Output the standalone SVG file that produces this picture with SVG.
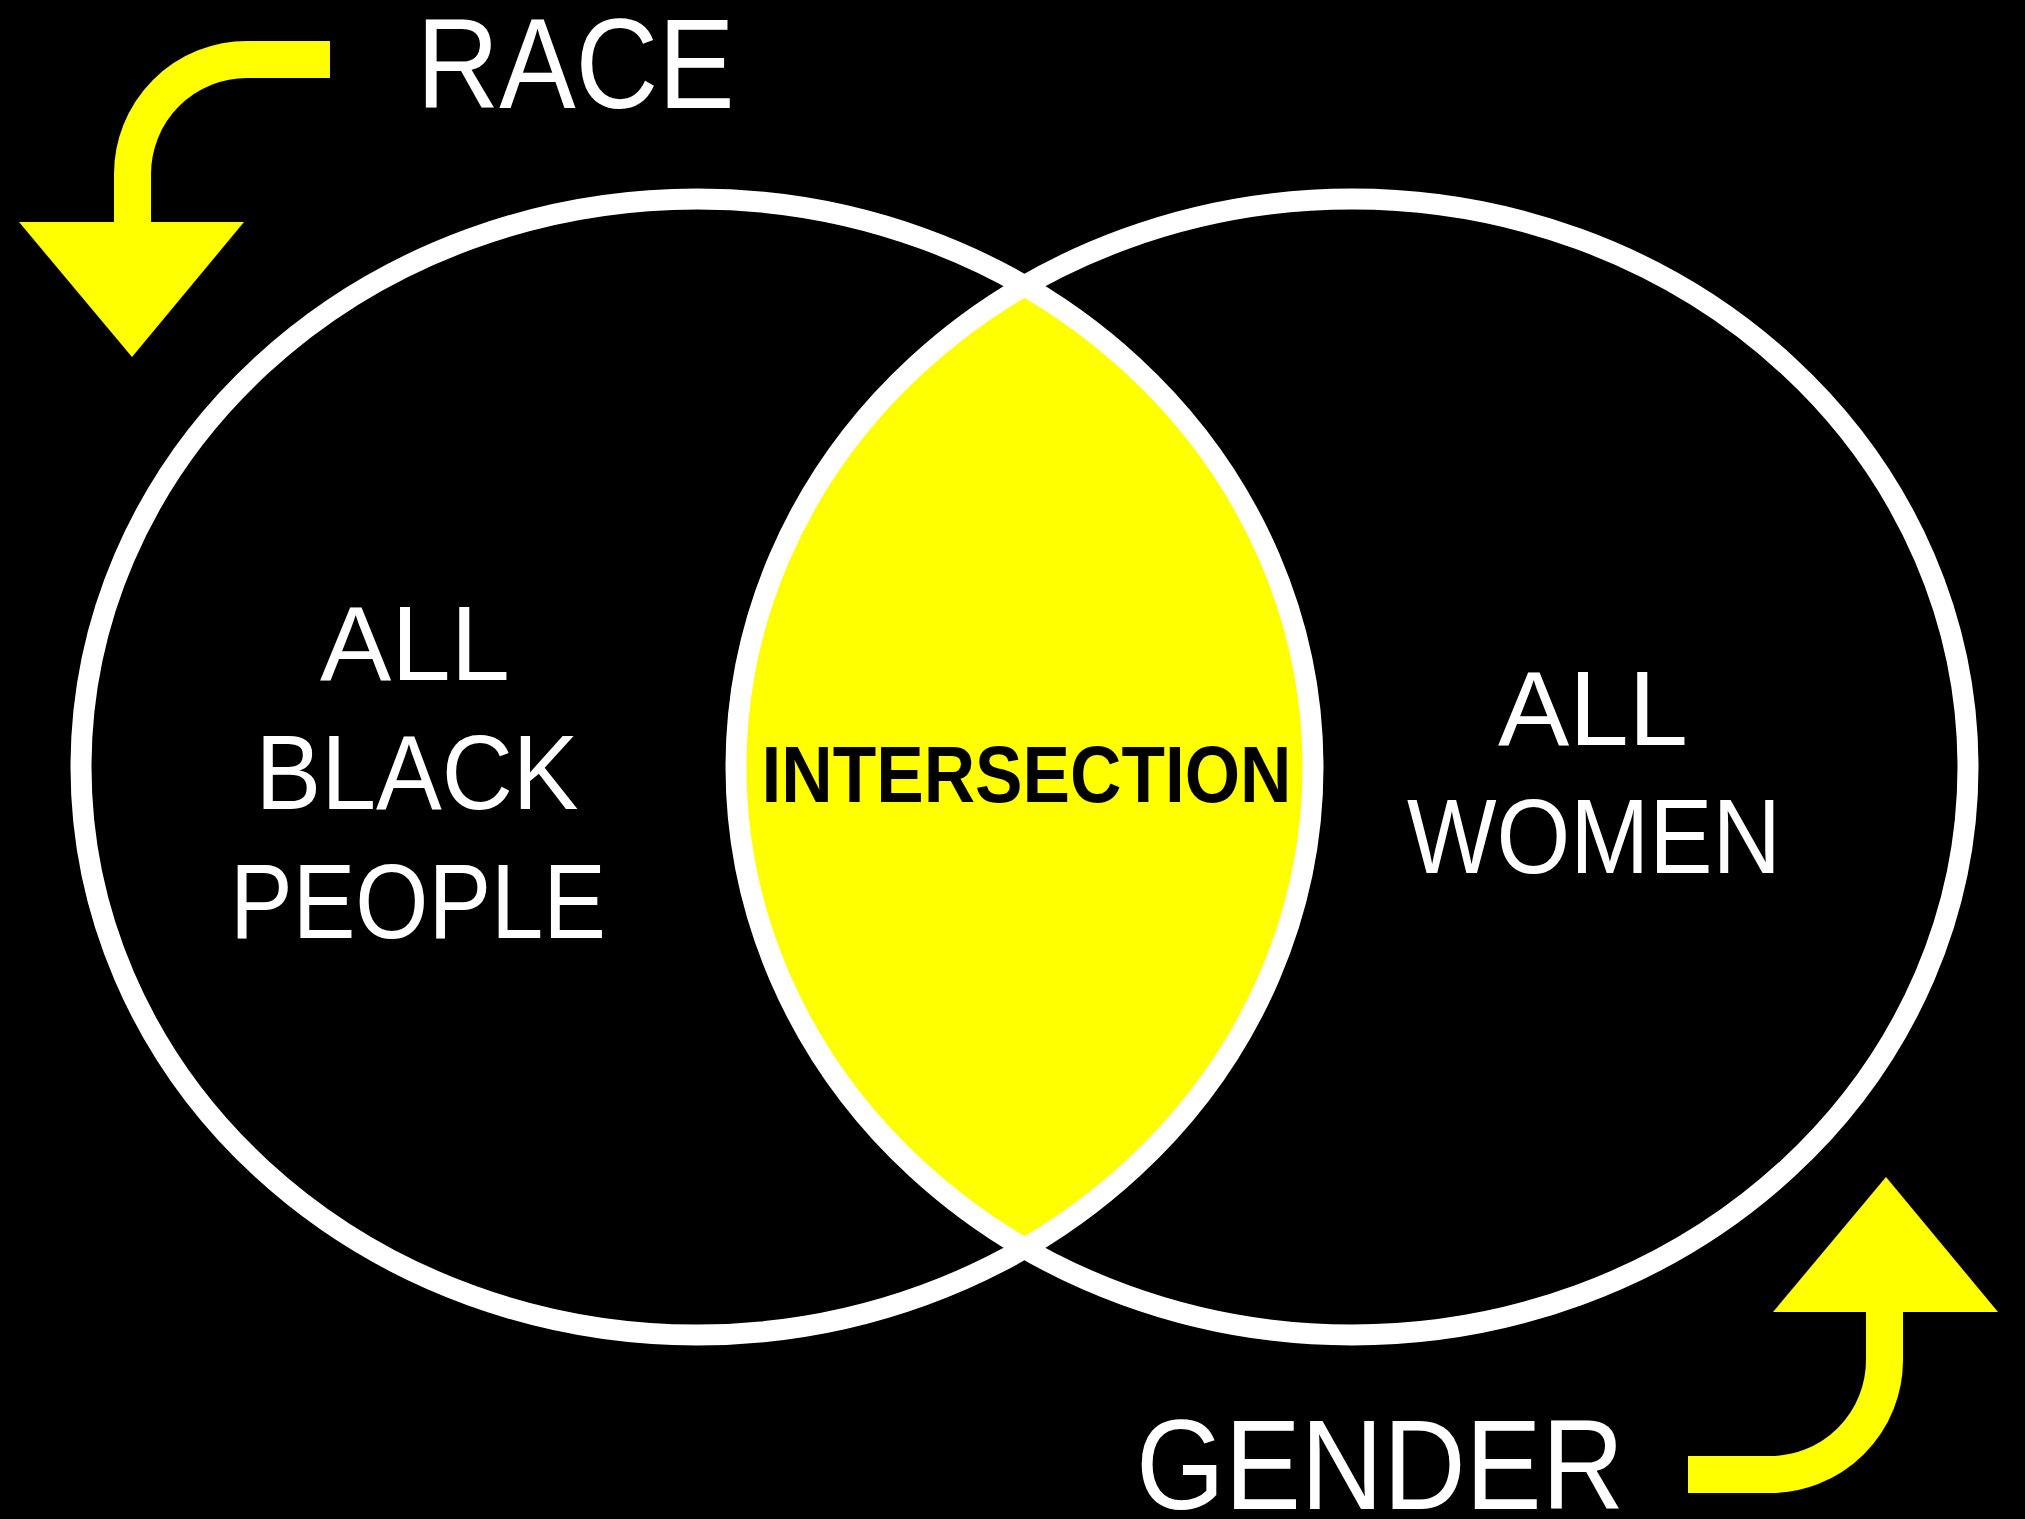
<svg xmlns="http://www.w3.org/2000/svg" width="2025" height="1519" viewBox="0 0 2025 1519">
  <style>
    .set { fill: none; stroke: #FFFFFF; stroke-width: 21; }
    .lbl { font-family: "Liberation Sans", Arial, sans-serif; fill: #FFFFFF; }
    .big { font-size: 106px; }
    .huge { font-size: 128px; }
    .mid { font-family: "Liberation Sans", Arial, sans-serif; font-weight: bold; font-size: 80px; fill: #000000; }
    .shaft { fill: none; stroke: #FFFF00; stroke-width: 37; stroke-linecap: butt; }
    .head { fill: #FFFF00; stroke: none; }
  </style>
  <rect x="0" y="0" width="2025" height="1519" fill="#000000"/>

  <g id="intersection">
    <path d="M 1024.5 285.9 A 616 568 0 0 0 1024.5 1248.1 A 616 568 0 0 0 1024.5 285.9 Z" fill="#FFFF00"/>
    <text class="mid" x="761.5" y="802" textLength="530" lengthAdjust="spacingAndGlyphs">INTERSECTION</text>
  </g>

  <g id="set-black-people">
    <ellipse class="set" cx="697" cy="767" rx="616" ry="568"/>
    <text class="lbl big" x="320" y="680" textLength="190" lengthAdjust="spacingAndGlyphs">ALL</text>
    <text class="lbl big" x="255.5" y="809" textLength="323" lengthAdjust="spacingAndGlyphs">BLACK</text>
    <text class="lbl big" x="230" y="937.5" textLength="376" lengthAdjust="spacingAndGlyphs">PEOPLE</text>
  </g>

  <g id="set-women">
    <ellipse class="set" cx="1352" cy="767" rx="616" ry="568"/>
    <text class="lbl big" x="1498" y="745" textLength="190" lengthAdjust="spacingAndGlyphs">ALL</text>
    <text class="lbl big" x="1407" y="873" textLength="374" lengthAdjust="spacingAndGlyphs">WOMEN</text>
  </g>

  <g id="label-race">
    <text class="lbl huge" x="416.5" y="108" textLength="318" lengthAdjust="spacingAndGlyphs">RACE</text>
  </g>

  <g id="label-gender">
    <text class="lbl huge" x="1136" y="1509" textLength="488" lengthAdjust="spacingAndGlyphs">GENDER</text>
  </g>

  <g id="connectors">
    <g id="arrow-race">
      <path class="shaft" d="M 330 59.5 H 247 A 114.5 114.5 0 0 0 132.5 174 V 223"/>
      <polygon class="head" points="19,222 244,222 132,357"/>
    </g>
    <g id="arrow-gender">
      <path class="shaft" d="M 1688 1474.5 H 1769 A 114.5 114.5 0 0 0 1884.5 1360 V 1311"/>
      <polygon class="head" points="1773,1312 1998,1312 1886,1177"/>
    </g>
  </g>
</svg>
